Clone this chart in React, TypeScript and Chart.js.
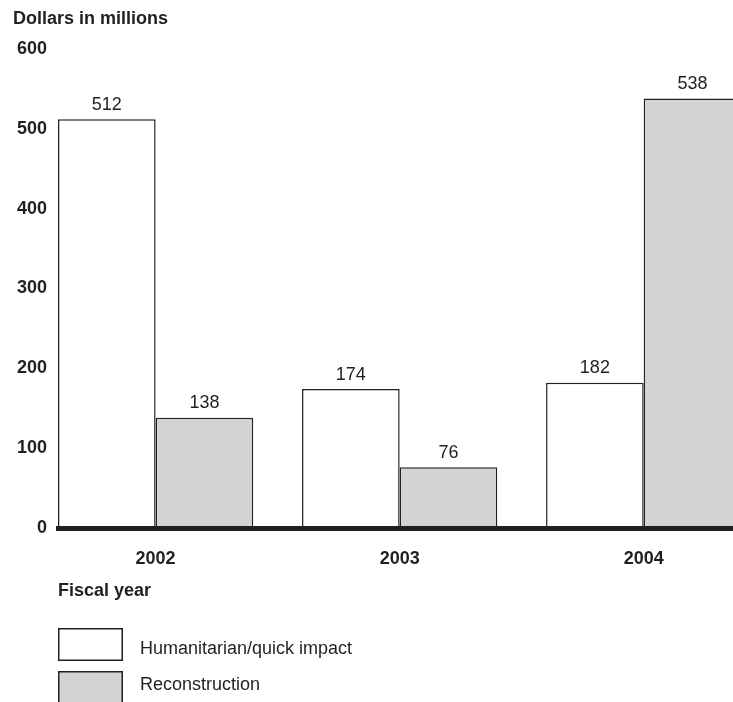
import React, { useEffect, useRef } from "react";
import { Chart, registerables } from "chart.js";

Chart.register(...registerables);

// ---- data ----
const years = [2002, 2003, 2004];
const humanitarian = [512, 174, 182];
const reconstruction = [138, 76, 538];
const seriesNames = ["Humanitarian/quick impact", "Reconstruction"];
const yTitle = "Dollars in millions";
const xTitle = "Fiscal year";
const yMin = 0;
const yMax = 600;
const yStep = 100;

// ---- style ----
const INK = "#231f20";
const GREY = "#d1d3d4";
const FONT = "'Liberation Sans', Arial, Helvetica, sans-serif";
const legendTextBaselines = [654, 690];

export default function App() {
  const ref = useRef<HTMLCanvasElement>(null);

  useEffect(() => {
    const canvas = ref.current;
    if (!canvas) return;

    const extras = {
      id: "extras",
      afterDatasetsDraw(chart: any) {
        const c = chart.ctx;
        c.save();
        c.fillStyle = INK;
        c.font = `18px ${FONT}`;
        c.textAlign = "center";
        c.textBaseline = "alphabetic";
        chart.data.datasets.forEach((ds: any, di: number) => {
          const meta = chart.getDatasetMeta(di);
          meta.data.forEach((el: any, i: number) => {
            const v = ds.data[i].y;
            c.fillText(String(v), el.x, el.y - 9.5);
          });
        });
        c.restore();
      },
      afterDraw(chart: any) {
        const c = chart.ctx;
        const left = chart.chartArea.left;
        c.save();
        c.fillStyle = INK;
        c.textAlign = "left";
        c.textBaseline = "alphabetic";
        c.font = `bold 18px ${FONT}`;
        c.fillText(yTitle, 13, 24);
        c.fillText(xTitle, left, 596);
        chart.data.datasets.forEach((ds: any, i: number) => {
          const y = 628 + i * 43;
          c.fillStyle = ds.backgroundColor;
          c.fillRect(left, y, 65, 33);
          c.strokeStyle = INK;
          c.lineWidth = 1.5;
          c.strokeRect(left + 0.75, y + 0.75, 63.5, 31.5);
          c.fillStyle = INK;
          c.font = `18px ${FONT}`;
          c.fillText(ds.label, 140, legendTextBaselines[i]);
        });
        c.restore();
      },
    };

    const chart = new Chart(canvas, {
      type: "bar",
      data: {
        datasets: [
          {
            label: seriesNames[0],
            data: years.map((x, i) => ({ x, y: humanitarian[i] })),
            backgroundColor: "#ffffff",
            borderColor: INK,
            borderWidth: 1.5,
            categoryPercentage: 0.8,
            barPercentage: 1,
          },
          {
            label: seriesNames[1],
            data: years.map((x, i) => ({ x, y: reconstruction[i] })),
            backgroundColor: GREY,
            borderColor: INK,
            borderWidth: 1.5,
            categoryPercentage: 0.8,
            barPercentage: 1,
          },
        ],
      },
      options: {
        animation: false,
        responsive: true,
        maintainAspectRatio: false,
        layout: { padding: { top: 49, right: 0, left: 0, bottom: 0 } },
        plugins: {
          legend: { display: false },
          tooltip: { enabled: false },
          title: { display: false },
        },
        scales: {
          x: {
            type: "linear",
            offset: false,
            min: 2001.6,
            max: 2004.366,
            afterBuildTicks: (scale: any) => {
              scale.ticks = years.map((v) => ({ value: v }));
            },
            afterFit: (scale: any) => {
              scale.height = 174;
            },
            grid: { display: false, drawTicks: false },
            border: { display: true, color: INK, width: 5, z: 1 },
            ticks: {
              padding: 20,
              color: INK,
              font: { family: FONT, size: 18, weight: "bold" },
              callback: (v: any) => String(v),
              maxRotation: 0,
              autoSkip: false,
            },
          },
          y: {
            min: yMin,
            max: yMax,
            afterFit: (scale: any) => {
              scale.width = 58;
            },
            grid: { display: false, drawTicks: false },
            border: { display: false },
            ticks: {
              stepSize: yStep,
              padding: 11,
              color: INK,
              font: { family: FONT, size: 18, weight: "bold" },
              callback: (v: any) => String(v),
            },
          },
        },
      },
      plugins: [extras],
    } as any);

    return () => chart.destroy();
  }, []);

  return (
    <div style={{ position: "absolute", left: 0, top: 0, width: 733, height: 702, background: "#fff" }}>
      <canvas ref={ref} />
    </div>
  );
}
